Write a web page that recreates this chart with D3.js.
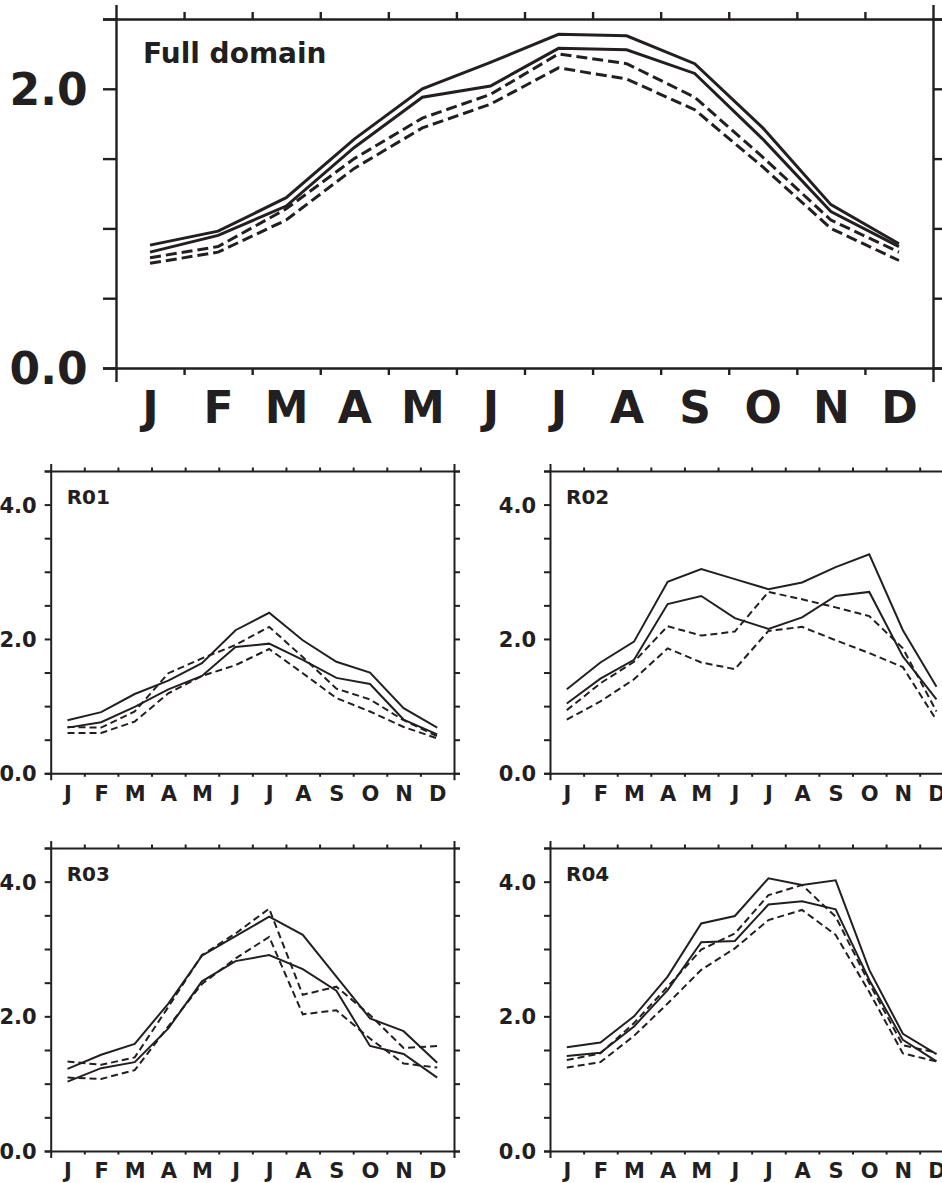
<!DOCTYPE html>
<html><head><meta charset="utf-8">
<script src="https://cdn.jsdelivr.net/npm/d3@7"></script>
<style>
html,body{margin:0;padding:0;background:#fff;overflow:hidden}
svg{display:block}
</style></head><body>
<svg id="chart" width="942" height="1183"></svg>
<script>
// ---------- data ----------
const months = ["J","F","M","A","M","J","J","A","S","O","N","D"];
const fullTicksY = [0, 0.5, 1, 1.5, 2, 2.5];
const fullLabelsY = [0, 2];
const regionTicksY = [0, 0.5, 1, 1.5, 2, 2.5, 3, 3.5, 4, 4.5];
const regionLabelsY = [0, 2, 4];

const fullSolidA = [0.88, 0.98, 1.22, 1.64, 2.00, 2.19, 2.39, 2.38, 2.18, 1.72, 1.17, 0.89];
const fullSolidB = [0.83, 0.95, 1.16, 1.58, 1.94, 2.02, 2.29, 2.28, 2.11, 1.64, 1.12, 0.87];
const fullDashA  = [0.79, 0.87, 1.14, 1.50, 1.79, 1.96, 2.25, 2.18, 1.94, 1.51, 1.06, 0.83];
const fullDashB  = [0.75, 0.83, 1.06, 1.43, 1.72, 1.89, 2.15, 2.07, 1.85, 1.44, 1.00, 0.77];

const r01SolidA = [0.79, 0.91, 1.18, 1.38, 1.64, 2.13, 2.39, 1.98, 1.66, 1.50, 0.97, 0.68];
const r01SolidB = [0.68, 0.76, 0.99, 1.25, 1.45, 1.88, 1.93, 1.69, 1.42, 1.33, 0.80, 0.58];
const r01DashA  = [0.69, 0.68, 0.92, 1.49, 1.71, 1.91, 2.18, 1.73, 1.26, 1.10, 0.79, 0.55];
const r01DashB  = [0.60, 0.60, 0.77, 1.19, 1.45, 1.61, 1.85, 1.49, 1.12, 0.92, 0.69, 0.52];

const r02SolidA = [1.25, 1.65, 1.96, 2.85, 3.04, 2.89, 2.74, 2.84, 3.07, 3.26, 2.13, 1.29];
const r02SolidB = [1.04, 1.41, 1.69, 2.52, 2.64, 2.31, 2.15, 2.32, 2.64, 2.70, 1.74, 1.10];
const r02DashA  = [0.94, 1.34, 1.66, 2.19, 2.05, 2.11, 2.70, 2.59, 2.47, 2.34, 1.86, 0.92];
const r02DashB  = [0.80, 1.07, 1.40, 1.86, 1.65, 1.55, 2.12, 2.18, 1.98, 1.79, 1.58, 0.79];

const r03SolidA = [1.22, 1.43, 1.59, 2.19, 2.90, 3.19, 3.48, 3.21, 2.59, 1.97, 1.78, 1.31];
const r03SolidB = [1.03, 1.23, 1.32, 1.82, 2.52, 2.82, 2.91, 2.70, 2.38, 1.56, 1.44, 1.09];
const r03DashA  = [1.33, 1.28, 1.39, 2.14, 2.91, 3.23, 3.60, 2.32, 2.44, 2.02, 1.53, 1.56];
const r03DashB  = [1.09, 1.07, 1.20, 1.85, 2.48, 2.86, 3.18, 2.03, 2.09, 1.67, 1.30, 1.24];

const r04SolidA = [1.54, 1.61, 2.00, 2.59, 3.38, 3.49, 4.05, 3.95, 4.02, 2.69, 1.74, 1.44];
const r04SolidB = [1.41, 1.46, 1.85, 2.39, 3.10, 3.12, 3.66, 3.71, 3.59, 2.54, 1.65, 1.33];
const r04DashA  = [1.35, 1.45, 1.90, 2.44, 2.99, 3.23, 3.80, 3.95, 3.48, 2.49, 1.57, 1.46];
const r04DashB  = [1.24, 1.32, 1.71, 2.19, 2.69, 3.01, 3.43, 3.58, 3.21, 2.36, 1.45, 1.33];

// ---------- layout / style ----------
const INK = "#231f20";
const FONT = "'DejaVu Sans', sans-serif";

const bigStyle = {ymax: 2.5, yticks: fullTicksY, ylabels: fullLabelsY,
  ytick: 13, xtick: 7, ext: 14, axisW: 2.4, lineW: 3, dash: "11,5",
  labelSize: 44, ylabPad: 28.5, xlabPad: 23.5, titleSize: 28, titleDx: 27, titleDy: 44};
const smallStyle = {ymax: 4.5, yticks: regionTicksY, ylabels: regionLabelsY,
  ytick: 6, xtick: 3.5, ext: 7, axisW: 2, lineW: 2, dash: "7,4",
  labelSize: 21, ylabPad: 14, xlabPad: 12.5, titleSize: 20, titleDx: 16, titleDy: 32.5};

const panels = [
  {title: "Full domain", left: 116, top: 19, width: 817, height: 349, st: bigStyle,
   series: [[fullSolidA,false],[fullSolidB,false],[fullDashA,true],[fullDashB,true]]},
  {title: "R01", left: 50.7, top: 471, width: 403.3, height: 302.3, st: smallStyle,
   series: [[r01SolidA,false],[r01SolidB,false],[r01DashA,true],[r01DashB,true]]},
  {title: "R02", left: 550, top: 471, width: 403.3, height: 302.3, st: smallStyle,
   series: [[r02SolidA,false],[r02SolidB,false],[r02DashA,true],[r02DashB,true]]},
  {title: "R03", left: 50.7, top: 848, width: 403.3, height: 303, st: smallStyle,
   series: [[r03SolidA,false],[r03SolidB,false],[r03DashA,true],[r03DashB,true]]},
  {title: "R04", left: 550, top: 848, width: 403.3, height: 303, st: smallStyle,
   series: [[r04SolidA,false],[r04SolidB,false],[r04DashA,true],[r04DashB,true]]}
];

const svg = d3.select("#chart");

function styleAxis(sel, w) {
  sel.selectAll("path,line").attr("stroke", INK).attr("stroke-width", w).attr("fill", "none");
}

function drawPanel(p) {
  const s = p.st;
  const g = svg.append("g").attr("transform", `translate(${p.left},${p.top})`);
  const x = d3.scaleLinear().domain([0, 12]).range([0, p.width]);
  const y = d3.scaleLinear().domain([0, s.ymax]).range([p.height, 0]);
  const inner = d3.range(1, 12);
  const centers = d3.range(12).map(i => i + 0.5);

  // frame axes (ticks outward)
  g.append("g").call(d3.axisLeft(y).tickValues(s.yticks).tickSizeInner(s.ytick).tickSizeOuter(s.ytick).tickFormat(""))
    .call(a => styleAxis(a, s.axisW));
  g.append("g").attr("transform", `translate(${p.width},0)`)
    .call(d3.axisRight(y).tickValues(s.yticks).tickSizeInner(s.ytick).tickSizeOuter(s.ytick).tickFormat(""))
    .call(a => styleAxis(a, s.axisW));
  g.append("g").attr("transform", `translate(0,${p.height})`)
    .call(d3.axisBottom(x).tickValues(inner).tickSizeInner(s.xtick).tickSizeOuter(s.ext).tickFormat(""))
    .call(a => styleAxis(a, s.axisW));
  g.append("g")
    .call(d3.axisTop(x).tickValues(inner).tickSizeInner(s.xtick).tickSizeOuter(s.ext).tickFormat(""))
    .call(a => styleAxis(a, s.axisW));

  // tick labels
  const yl = g.append("g")
    .call(d3.axisLeft(y).tickValues(s.ylabels).tickSize(0).tickPadding(s.ylabPad).tickFormat(d3.format(".1f")));
  yl.select(".domain").remove();
  yl.attr("font-family", FONT).attr("font-size", s.labelSize).attr("font-weight", "bold");
  yl.selectAll("text").attr("fill", INK).attr("dy", "0.36em");

  const xl = g.append("g").attr("transform", `translate(0,${p.height})`)
    .call(d3.axisBottom(x).tickValues(centers).tickSize(0).tickPadding(s.xlabPad).tickFormat((d, i) => months[i]));
  xl.select(".domain").remove();
  xl.attr("font-family", FONT).attr("font-size", s.labelSize).attr("font-weight", "bold");
  xl.selectAll("text").attr("fill", INK);

  // series
  const line = d3.line().x((d, i) => x(i + 0.5)).y(d => y(d));
  p.series.forEach(([vals, dashed]) => {
    g.append("path").datum(vals)
      .attr("d", line)
      .attr("fill", "none")
      .attr("stroke", INK)
      .attr("stroke-width", s.lineW)
      .attr("stroke-linejoin", "miter")
      .attr("stroke-dasharray", dashed ? s.dash : null);
  });

  // title
  g.append("text")
    .attr("x", s.titleDx).attr("y", s.titleDy)
    .attr("font-family", FONT).attr("font-size", s.titleSize).attr("font-weight", "bold")
    .attr("fill", INK)
    .text(p.title);
}

panels.forEach(drawPanel);
</script>
</body></html>
